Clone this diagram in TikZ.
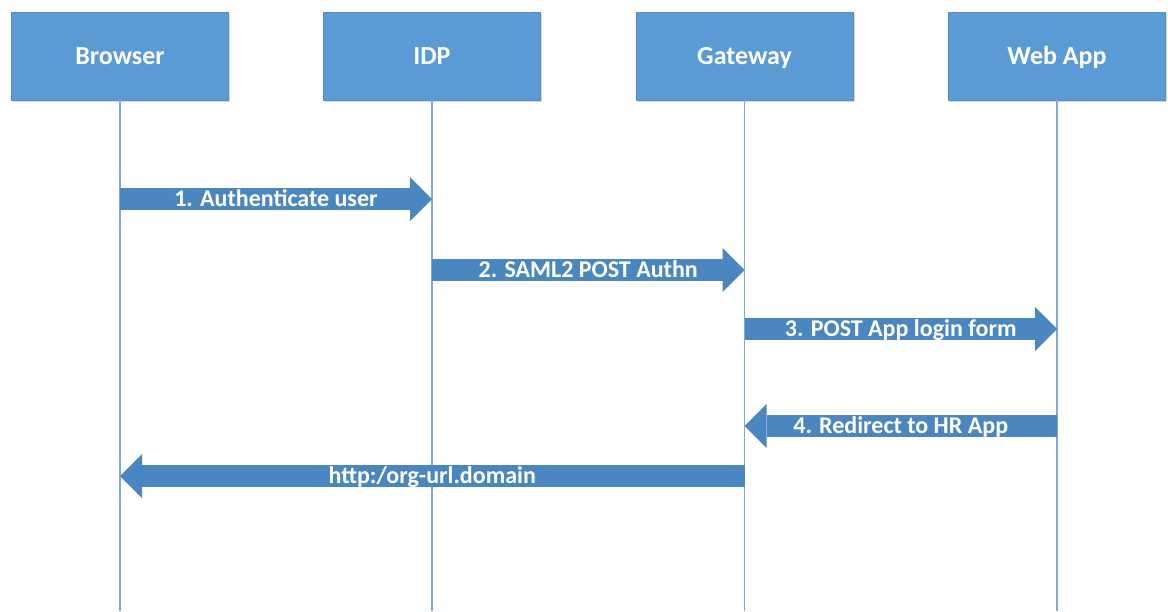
\documentclass[tikz,border=0pt]{standalone}
\usepackage{fontspec}
\setmainfont{Carlito}
\usepackage{tikz}
\usetikzlibrary{arrows.meta, positioning, shadows}

\definecolor{headblue}{HTML}{5B9BD5}
\definecolor{msgblue}{HTML}{4A86C0}
\definecolor{laneblue}{HTML}{7EA9DA}

\begin{document}
\begin{tikzpicture}[
        x=1pt, y=-1pt,
        actor/.style={draw=headblue!92!black, fill=headblue, line width=0.4pt, minimum width=217pt, minimum height=88pt, inner sep=0pt, text=white, text height=17pt, text depth=0pt, font=\fontsize{26}{28}\selectfont\bfseries, drop shadow={shadow xshift=1.5pt, shadow yshift=-1.5pt, opacity=0.3, fill=black!50}},
        lane/.style={draw=laneblue, line width=1.5pt},
        msg/.style={draw=msgblue, line width=22pt, -{Triangle[length=22pt, width=44pt, line width=0pt]}},
        msglabel/.style={text=white, text height=15.5pt, text depth=0pt, font=\fontsize{24}{26}\selectfont\bfseries, inner sep=0pt}
    ]
        \useasboundingbox (0,0) rectangle (1168,611);

        % Actors
        \node[actor] (browser) at (120,56) {Browser};
        \node[actor] (idp) at (432,56) {IDP};
        \node[actor] (gateway) at (744.5,56) {Gateway};
        \node[actor] (webapp) at (1057,56) {Web App};

        % Lifelines
        \coordinate (bottom) at (0,611);
        \foreach \a in {browser, idp, gateway, webapp}
            \draw[lane] (\a.south) -- (\a |- bottom);

        % Message rows
        \coordinate (r1) at (0,199);
        \coordinate (r2) at (0,270);
        \coordinate (r3) at (0,329);
        \coordinate (r4) at (0,426);
        \coordinate (r5) at (0,476);

        % Messages
        \draw[msg] (browser |- r1) -- (idp |- r1) node[midway, msglabel] {1. Authenticate user};
        \draw[msg] (idp |- r2) -- (gateway |- r2) node[midway, msglabel] {2. SAML2 POST Authn};
        \draw[msg] (gateway |- r3) -- (webapp |- r3) node[midway, msglabel] {3. POST App login form};
        \draw[msg] (webapp |- r4) -- (gateway |- r4) node[midway, msglabel] {4. Redirect to HR App};
        \draw[msg] (gateway |- r5) -- (browser |- r5) node[midway, msglabel] {http:/org-url.domain};

    \end{tikzpicture}
\end{document}
